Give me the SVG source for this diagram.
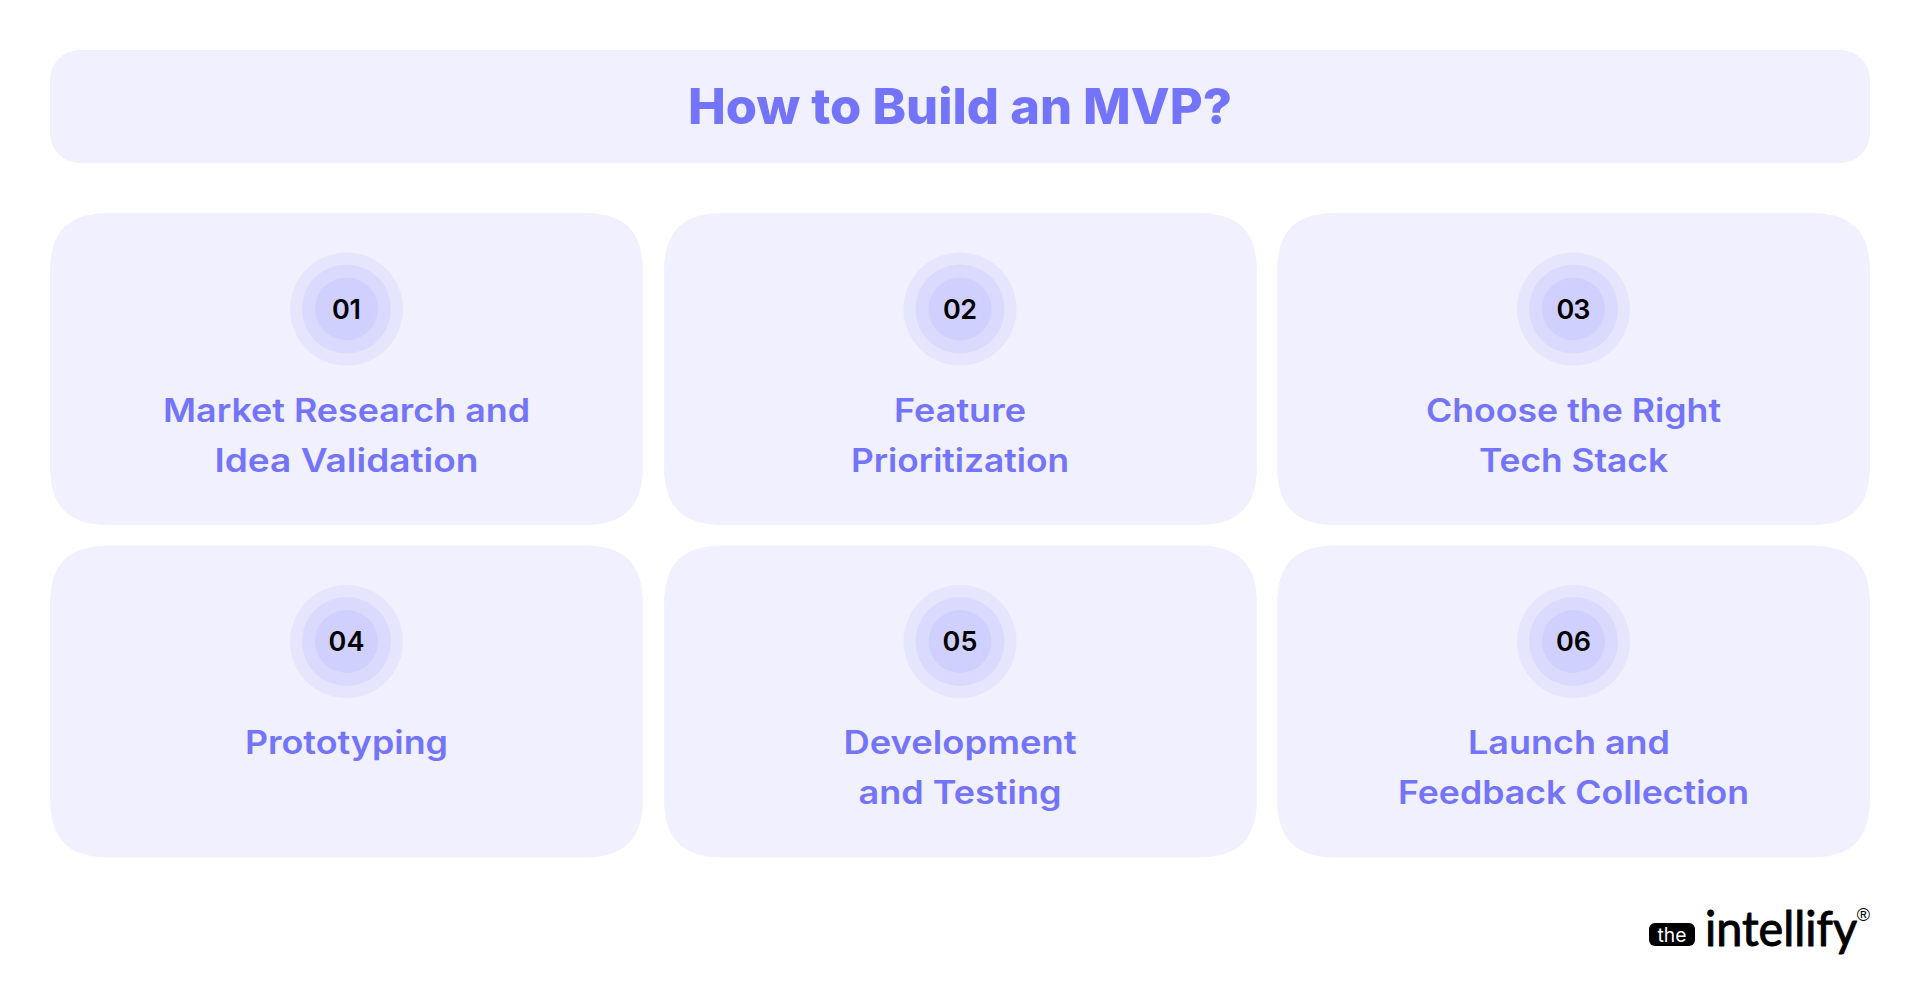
<svg xmlns="http://www.w3.org/2000/svg" width="1920" height="1008" viewBox="0 0 1920 1008">
<style>
.bg{fill:#f0f0fe}
.c1{fill:#e5e5fe}
.c2{fill:#dadafe}
.c3{fill:#d0d0fe}
.t{font-family:Inter,"Liberation Sans",sans-serif;font-weight:600;font-size:32px;fill:#7474fb;text-anchor:middle}
.n{font-family:Inter,"Liberation Sans",sans-serif;font-weight:600;font-size:27px;fill:#000;text-anchor:middle}
</style>
<defs>
<path id="card" d="M60 0H533C575 0 593 18 593 60V252C593 294 575 312 533 312H60C18 312 0 294 0 252V60C0 18 18 0 60 0Z"/>
<g id="rings"><circle class="c1" r="56.5"/><circle class="c2" r="44.5"/><circle class="c3" r="31.5"/></g>
</defs>
<rect width="1920" height="1008" fill="#fff"/>
<g id="header">
<rect class="bg" x="50" y="50" width="1820" height="113" rx="30"/>
<text x="960" y="124" text-anchor="middle" textLength="544" lengthAdjust="spacingAndGlyphs" style="font-family:Inter,'Liberation Sans',sans-serif;font-weight:800;font-size:50px;fill:#7474fb">How to Build an MVP?</text>
</g>
<g id="connectors"></g>
<g id="node-01">
<use href="#card" class="bg" x="50" y="213"/><use href="#rings" x="346.5" y="309"/>
<text class="n" x="346.5" y="318.5" textLength="29">01</text>
<text class="t" x="346.5" y="421.5" textLength="367" lengthAdjust="spacingAndGlyphs">Market Research and</text>
<text class="t" x="346.5" y="471.5" textLength="264" lengthAdjust="spacingAndGlyphs">Idea Validation</text>
</g>
<g id="node-02">
<use href="#card" class="bg" x="664" y="213"/><use href="#rings" x="960" y="309"/>
<text class="n" x="960" y="318.5" textLength="34">02</text>
<text class="t" x="960" y="421.5" textLength="132" lengthAdjust="spacingAndGlyphs">Feature</text>
<text class="t" x="960" y="471.5" textLength="218" lengthAdjust="spacingAndGlyphs">Prioritization</text>
</g>
<g id="node-03">
<use href="#card" class="bg" x="1277" y="213"/><use href="#rings" x="1573.5" y="309"/>
<text class="n" x="1573.5" y="318.5" textLength="34">03</text>
<text class="t" x="1573.5" y="421.5" textLength="295" lengthAdjust="spacingAndGlyphs">Choose the Right</text>
<text class="t" x="1573.5" y="471.5" textLength="189" lengthAdjust="spacingAndGlyphs">Tech Stack</text>
</g>
<g id="node-04">
<use href="#card" class="bg" x="50" y="545.5"/><use href="#rings" x="346.5" y="641.5"/>
<text class="n" x="346.5" y="651" textLength="36">04</text>
<text class="t" x="346.5" y="753.5" textLength="203" lengthAdjust="spacingAndGlyphs">Prototyping</text>
</g>
<g id="node-05">
<use href="#card" class="bg" x="664" y="545.5"/><use href="#rings" x="960" y="641.5"/>
<text class="n" x="960" y="651" textLength="35">05</text>
<text class="t" x="960" y="753.5" textLength="233" lengthAdjust="spacingAndGlyphs">Development</text>
<text class="t" x="960" y="803.5" textLength="203" lengthAdjust="spacingAndGlyphs">and Testing</text>
</g>
<g id="node-06">
<use href="#card" class="bg" x="1277" y="545.5"/><use href="#rings" x="1573.5" y="641.5"/>
<text class="n" x="1573.5" y="651" textLength="35">06</text>
<text class="t" x="1569" y="753.5" textLength="202" lengthAdjust="spacingAndGlyphs">Launch and</text>
<text class="t" x="1573.5" y="803.5" textLength="351" lengthAdjust="spacingAndGlyphs">Feedback Collection</text>
</g>
<g id="logo">
<rect x="1649" y="923" width="46" height="23" rx="6" fill="#000"/>
<text x="1672" y="941.5" text-anchor="middle" textLength="29" lengthAdjust="spacingAndGlyphs" style="font-family:Inter,sans-serif;font-weight:400;font-size:20px;fill:#fff">the</text>
<text x="1705" y="946" textLength="152" lengthAdjust="spacingAndGlyphs" style="font-family:Lato,sans-serif;font-weight:400;font-size:48px;fill:#000;stroke:#000;stroke-width:1;stroke-linejoin:round">intellify</text>
<text x="1863.5" y="921" text-anchor="middle" style="font-family:'Liberation Sans',sans-serif;font-size:18px;fill:#000">®</text>
</g>
</svg>
